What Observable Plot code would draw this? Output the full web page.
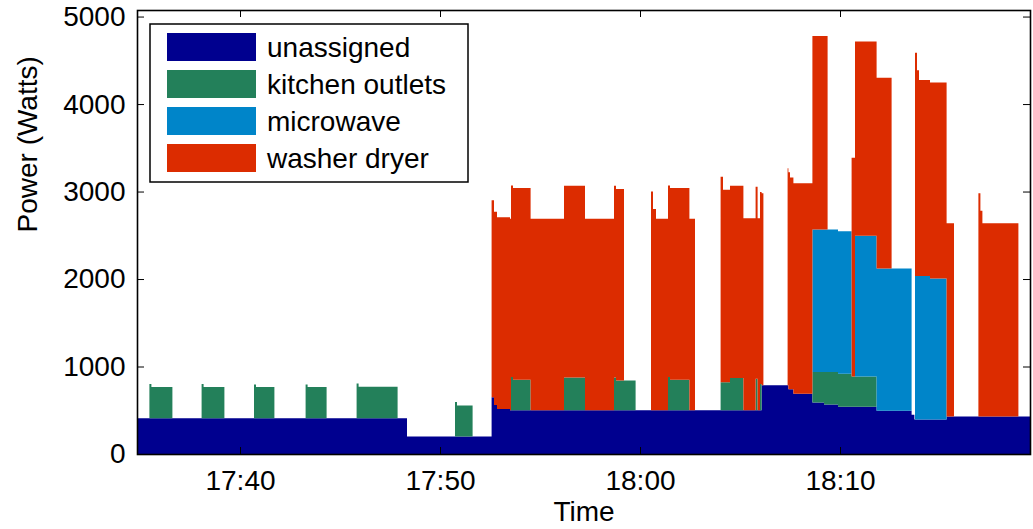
<!DOCTYPE html>
<html><head><meta charset="utf-8">
<script src="https://cdn.jsdelivr.net/npm/d3@7"></script>
<script src="https://cdn.jsdelivr.net/npm/@observablehq/plot@0.6"></script>
<style>
html,body{margin:0;padding:0;background:#fff;}
#chart svg{display:block;}
</style></head><body><div id="chart"></div>
<script>
// Series (stack order bottom -> top) and colours
const seriesNames = ["unassigned", "kitchen outlets", "microwave", "washer dryer"];
const seriesColors = ["#00008f", "#23805a", "#0085c9", "#dc2c00"];
const xTickLabels = ["17:40", "17:50", "18:00", "18:10"];
const yTicks = [0, 1000, 2000, 3000, 4000, 5000];
const timeRange = [34.85, 79.5]; // minutes after 17:00

// Each series: [start minute after 17:00, end minute, watts]
const unassigned = [
  [34.85, 48.35, 410], [48.35, 52.58, 200], [52.58, 52.7, 650], [52.7, 52.85, 560],
  [52.85, 53.5, 515], [53.5, 66.08, 500], [66.08, 67.42, 785], [67.42, 67.67, 740],
  [67.67, 68.62, 690], [68.62, 69.2, 590], [69.2, 69.9, 565], [69.9, 71.83, 540],
  [71.83, 73.58, 495], [73.58, 73.72, 450], [73.72, 75.33, 395], [75.33, 79.5, 430]
];
const kitchenOutlets = [
  [35.47, 35.57, 390], [35.57, 36.62, 355], [38.08, 38.18, 390], [38.18, 39.22, 355],
  [40.7, 40.8, 385], [40.8, 41.72, 355], [43.28, 43.38, 385], [43.38, 44.33, 355],
  [45.83, 45.93, 395], [45.93, 47.88, 360], [50.75, 50.85, 395], [50.85, 51.63, 355],
  [53.55, 53.65, 380], [53.65, 54.53, 350], [56.2, 57.25, 375], [58.7, 58.8, 375],
  [58.8, 59.78, 340], [61.4, 61.5, 380], [61.5, 62.47, 350], [64.03, 64.5, 320],
  [64.5, 65.17, 370], [65.78, 65.88, 360], [66.0, 66.08, 300], [68.62, 69.2, 347],
  [69.2, 69.9, 372], [69.9, 70.58, 376], [70.58, 71.83, 345]
];
const microwave = [
  [68.62, 70.58, 1630], [70.75, 71.83, 1610], [71.83, 73.58, 1625],
  [73.75, 74.5, 1640], [74.5, 75.33, 1610]
];
const washerDryer = [
  [52.58, 52.7, 2250], [52.7, 52.85, 2210], [52.85, 59.2, 2190],
  [60.55, 60.65, 2500], [60.65, 60.8, 2300], [60.8, 62.75, 2190],
  [64.03, 64.15, 2350], [64.15, 64.5, 2200], [64.5, 66.17, 2195],
  [67.38, 67.5, 2480], [67.5, 67.67, 2420], [67.67, 68.62, 2405],
  [68.62, 69.38, 2210], [70.58, 70.75, 2500], [70.75, 71.83, 2220],
  [71.83, 72.58, 2180], [73.75, 73.85, 2550], [73.85, 73.95, 2350],
  [73.95, 75.33, 2240], [75.33, 75.7, 2207], [76.92, 77.02, 2550],
  [77.02, 77.12, 2350], [77.12, 78.92, 2207]
];

const segments = [unassigned, kitchenOutlets, microwave, washerDryer];
const base = Date.UTC(2011, 3, 18, 17, 0);
const toDate = m => new Date(base + Math.round(m * 60000));
const parseHM = s => { const [h, m] = s.split(":").map(Number); return (h - 17) * 60 + m; };
const xTicks = xTickLabels.map(s => toDate(parseHM(s)));

// common breakpoints so the stack lines up
const grid = Array.from(new Set([timeRange[0], timeRange[1], ...segments.flatMap(s => s.flatMap(d => [d[0], d[1]]))])).sort((a, b) => a - b);
const tMax = timeRange[1];
const valueAt = (segs, t) => {
  for (const [a, b, v] of segs) if (t >= a && (t < b || (t === b && t === tMax))) return v;
  return 0;
};
const rows = [];
for (const t of grid) {
  seriesNames.forEach((name, i) => rows.push({time: toDate(t), series: name, value: valueAt(segments[i], t)}));
}

const W = 1033, H = 529, mL = 137, mR = 3, mT = 10, mB = 75;
const pw = W - mL - mR, ph = H - mT - mB, tk = 7;
const font = "'Liberation Sans', Arial, Helvetica, sans-serif";

const plot = Plot.plot({
  width: W, height: H, marginLeft: mL, marginRight: mR, marginTop: mT, marginBottom: mB,
  style: {fontFamily: font, fontSize: "28px", color: "#000", background: "#fff"},
  x: {type: "utc", domain: [toDate(timeRange[0]), toDate(timeRange[1])]},
  y: {domain: [0, 5075]},
  color: {domain: seriesNames, range: seriesColors},
  marks: [
    Plot.areaY(rows, {x: "time", y: "value", z: "series", fill: "series", curve: "step-after", order: seriesNames}),
    Plot.tickX(xTicks, {x: d => d, insetTop: ph - tk, stroke: "#000"}),
    Plot.tickX(xTicks, {x: d => d, insetBottom: ph - tk, stroke: "#000"}),
    Plot.tickY(yTicks, {y: d => d, insetRight: pw - tk, stroke: "#000"}),
    Plot.tickY(yTicks, {y: d => d, insetLeft: pw - tk, stroke: "#000"}),
    Plot.frame({stroke: "#000", strokeWidth: 1.6}),
    Plot.axisX(xTicks, {anchor: "bottom", tickSize: 0, tickPadding: 16, tickFormat: d3.utcFormat("%H:%M"), label: null}),
    Plot.axisY(yTicks, {anchor: "left", tickSize: 0, tickPadding: 12, tickFormat: d3.format("d"), label: null}),
    Plot.text(["Power (Watts)"], {text: d => d, frameAnchor: "left", dx: -109, rotate: -90, lineAnchor: "middle"}),
    Plot.text(["Time"], {text: d => d, frameAnchor: "bottom", dy: 58, lineAnchor: "middle"})
  ]
});
document.getElementById("chart").appendChild(plot);

// legend inside the axes
const color = plot.scale("color");
const svg = d3.select(plot);
const lg = svg.append("g").attr("font-family", font).attr("font-size", 28).attr("text-anchor", "start");
lg.append("rect").attr("x", 150).attr("y", 24).attr("width", 318).attr("height", 158)
  .attr("fill", "#fff").attr("stroke", "#000").attr("stroke-width", 1.5);
seriesNames.forEach((name, i) => {
  const cy = 47 + i * 37;
  lg.append("rect").attr("x", 167).attr("y", cy - 14).attr("width", 89).attr("height", 28)
    .attr("fill", color.apply(name));
  lg.append("text").attr("x", 267).attr("y", cy + 9.5).attr("fill", "#000")
    .attr("text-anchor", "start").text(name);
});
</script></body></html>
